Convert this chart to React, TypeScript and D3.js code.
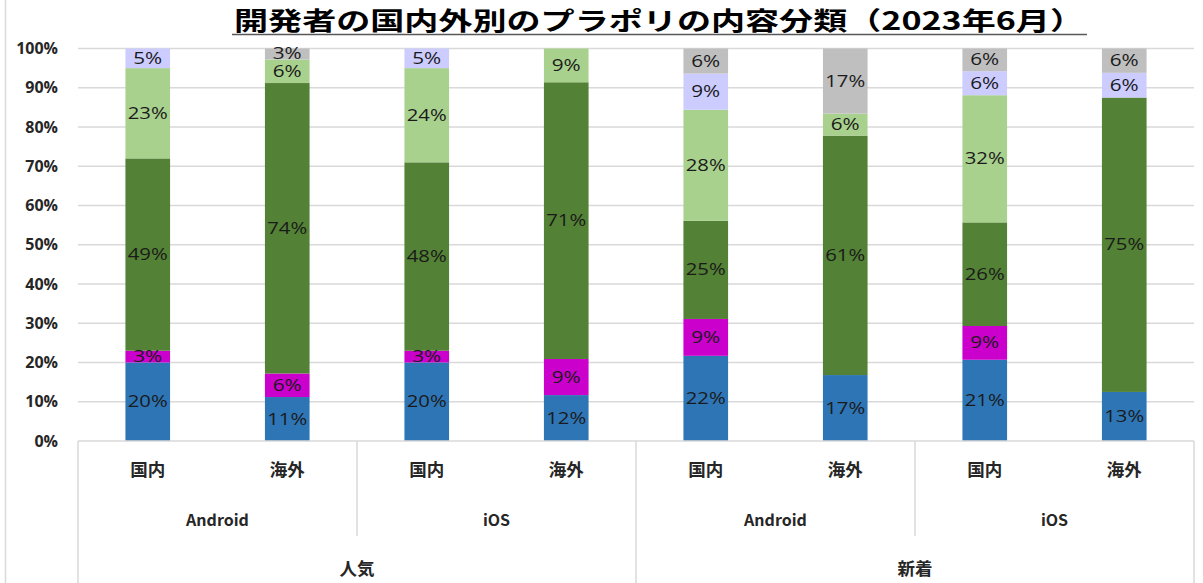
import React from "react";
import * as d3 from "d3";

const categories = ["国内", "海外", "国内", "海外", "国内", "海外", "国内", "海外"];
const platforms = ["Android", "iOS", "Android", "iOS"];
const groups = ["人気", "新着"];
const seriesColors = ["#2e75b6", "#cc00cc", "#538135", "#a9d18e", "#ccccff", "#bfbfbf"];
// stacked bottom-to-top, percent values per category
const s1 = [20.0, 11.2, 20.0, 11.7, 21.7, 16.8, 20.7, 12.5];
const s2 = [3.0, 6.0, 3.0, 9.2, 9.4, 0, 8.6, 0];
const s3 = [49.0, 74.0, 48.0, 70.5, 25.0, 61.0, 26.4, 75.0];
const s4 = [23.0, 6.0, 24.0, 8.6, 28.3, 5.6, 32.4, 0];
const s5 = [5.0, 0, 5.0, 0, 9.2, 0, 6.1, 6.3];
const s6 = [0, 2.8, 0, 0, 6.4, 16.6, 5.8, 6.2];
const seriesValues = [s1, s2, s3, s4, s5, s6];
const yTicks = [0, 10, 20, 30, 40, 50, 60, 70, 80, 90, 100];
const title = "開発者の国内外別のプラポリの内容分類（2023年6月）";

const W = 1203;
const H = 583;
const left = 78;
const right = 1194;
const y0 = 441;
const y100 = 48.5;

export default function App() {
  const x = d3.scaleBand<number>().domain(d3.range(categories.length)).range([left, right]).paddingInner(0.68).paddingOuter(0.34);
  const y = d3.scaleLinear().domain([0, 100]).range([y0, y100]);
  const band = (right - left) / categories.length;
  const rows = categories.map((_, i) => {
    let acc = 0;
    return seriesValues.map((s, k) => {
      const v = s[i];
      const seg = { k, v, lo: acc, hi: acc + v };
      acc += v;
      return seg;
    });
  });
  const cjk = "'Noto Sans CJK JP', 'Noto Sans', sans-serif";
  return (
    <div style={{ position: "absolute", left: 0, top: 0 }}>
      <svg width={W} height={H} style={{ display: "block", background: "#fff" }}>
        <line x1={5.5} x2={5.5} y1={0} y2={H} stroke="#d9d9d9" strokeWidth={1.5} />
        <text x={659} y={30} textAnchor="middle" fontFamily={cjk} fontWeight="bold" fontSize={25} fill="#000"
          textLength={850} lengthAdjust="spacingAndGlyphs">{title}</text>
        <line x1={232} x2={1087} y1={34.5} y2={34.5} stroke="#595959" strokeWidth={1.5} />
        {yTicks.map((t) => (
          <g key={t}>
            {t > 0 && <line x1={left} x2={right} y1={y(t)} y2={y(t)} stroke="#d9d9d9" strokeWidth={1.5} />}
            <text x={58} y={y(t) + 5.5} textAnchor="end" fontFamily="'Open Sans', sans-serif" fontWeight="bold" fontSize={16} fill="#262626">
              {t}%
            </text>
          </g>
        ))}
        {rows.map((segs, i) =>
          segs.map((sg) =>
            sg.v > 0 ? (
              <rect key={`${i}-${sg.k}`} x={x(i)} width={x.bandwidth()} y={y(sg.hi)} height={y(sg.lo) - y(sg.hi)} fill={seriesColors[sg.k]} />
            ) : null
          )
        )}
        {rows.map((segs, i) =>
          segs.map((sg) =>
            sg.v > 0 ? (
              <text key={`l${i}-${sg.k}`} x={(x(i) as number) + x.bandwidth() / 2} y={y((sg.lo + sg.hi) / 2) + 5.5}
                textAnchor="middle" fontFamily="'Open Sans', sans-serif" fontSize={15.5} fill="#1a1a1a"
                textLength={Math.round(sg.v) >= 10 ? 40 : 29} lengthAdjust="spacingAndGlyphs">
                {Math.round(sg.v)}%
              </text>
            ) : null
          )
        )}
        {/* category axis box */}
        <line x1={left} x2={right} y1={y0} y2={y0} stroke="#d9d9d9" strokeWidth={1.5} />
        {[0, 2, 4, 6, 8].map((b) => {
          const xx = left + b * band;
          const full = b % 4 === 0;
          return <line key={b} x1={xx} x2={xx} y1={y0} y2={full ? H : 536} stroke="#d9d9d9" strokeWidth={1.5} />;
        })}
        {categories.map((c, i) => (
          <text key={`c${i}`} x={left + (i + 0.5) * band} y={476} textAnchor="middle" fontFamily={cjk} fontWeight="bold" fontSize={17.5} fill="#262626">
            {c}
          </text>
        ))}
        {platforms.map((p, i) => (
          <text key={`p${i}`} x={left + (i + 0.5) * band * 2} y={526} textAnchor="middle" fontFamily={cjk} fontWeight="bold" fontSize={16} fill="#262626">
            {p}
          </text>
        ))}
        {groups.map((g, i) => (
          <text key={`g${i}`} x={left + (i + 0.5) * band * 4} y={575} textAnchor="middle" fontFamily={cjk} fontWeight="bold" fontSize={17.5} fill="#262626">
            {g}
          </text>
        ))}
      </svg>
    </div>
  );
}
